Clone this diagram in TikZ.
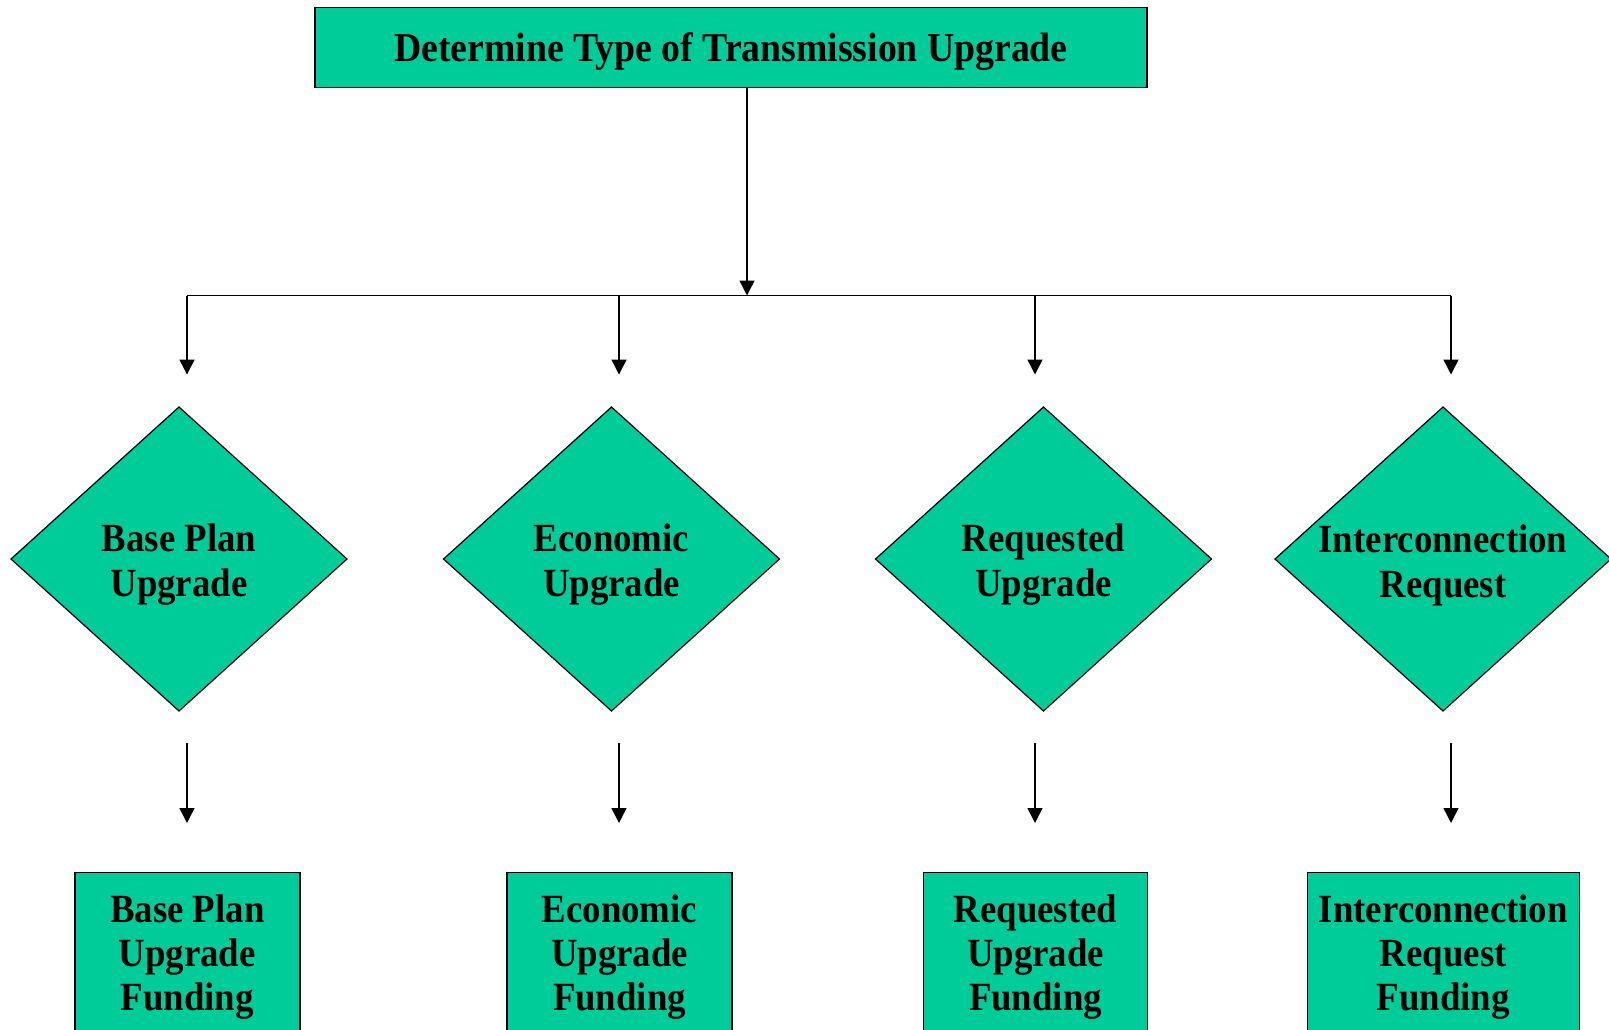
\documentclass[tikz,border=0pt]{standalone}
\usepackage{fontspec}
\setmainfont{Liberation Serif}[FakeStretch=0.92]
\usetikzlibrary{shapes.geometric,arrows.meta}
\definecolor{fillgreen}{RGB}{0,204,153}
\begin{document}
\begin{tikzpicture}[x=1pt,y=-1pt,
  box/.style={draw=black, line width=1.4pt, fill=fillgreen, inner sep=0pt, outer sep=0pt},
  dia/.style={diamond, draw=black, line width=1.2pt, fill=fillgreen, inner sep=0pt, outer sep=0pt,
              minimum width=336pt, minimum height=304pt},
  lbl/.style={align=center, inner sep=0pt, font=\bfseries\fontsize{40}{45}\selectfont},
  blbl/.style={align=center, inner sep=0pt, font=\bfseries\fontsize{40}{44}\selectfont},
  conn/.style={line width=1.4pt},
  arr/.style={line width=1.4pt, -{Triangle[length=15pt,width=15pt]}},
]
\useasboundingbox (0,0) rectangle (1609,1029);
\clip (0,0) rectangle (1609,1029);

% title
\node[box, minimum width=832pt, minimum height=80pt,
      font=\bfseries\fontsize{41}{45}\selectfont, text height=29pt, text depth=0pt]
  (title) at (731,47.2) {Determine Type of Transmission Upgrade};

% distribution
\coordinate (hub) at (747,295.5);
\coordinate (j1) at (187,295.5);
\coordinate (j2) at (619,295.5);
\coordinate (j3) at (1035,295.5);
\coordinate (j4) at (1451,295.5);
\coordinate (a1) at (187,374.5);
\coordinate (a2) at (619,374.5);
\coordinate (a3) at (1035,374.5);
\coordinate (a4) at (1451,374.5);

\draw[conn] (j1) -- (j4);
\draw[arr] (title.south -| hub) -- (hub);
\draw[arr] (j1) -- (a1);
\draw[arr] (j2) -- (a2);
\draw[arr] (j3) -- (a3);
\draw[arr] (j4) -- (a4);

% diamonds
\node[dia] (d1) at (179,559) {};
\node[dia] (d2) at (611.5,559) {};
\node[dia] (d3) at (1043.5,559) {};
\node[dia] (d4) at (1443,559) {};
\node[lbl] (d1t) at (179,565) {Base Plan\\Upgrade};
\node[lbl] (d2t) at (611.5,565) {Economic\\Upgrade};
\node[lbl] (d3t) at (1043.5,565) {Requested\\Upgrade};
\node[lbl] (d4t) at (1443,565) {Interconnection\\Request};

% second arrows
\coordinate (b1s) at (187,743);  \coordinate (b1e) at (187,823);
\coordinate (b2s) at (619,743);  \coordinate (b2e) at (619,823);
\coordinate (b3s) at (1035,743); \coordinate (b3e) at (1035,823);
\coordinate (b4s) at (1451,743); \coordinate (b4e) at (1451,823);
\draw[arr] (b1s) -- (b1e);
\draw[arr] (b2s) -- (b2e);
\draw[arr] (b3s) -- (b3e);
\draw[arr] (b4s) -- (b4e);

% funding boxes
\node[box, minimum width=225pt, minimum height=200pt, anchor=north] (f1) at (187.3,872.3) {};
\node[box, minimum width=225pt, minimum height=200pt, anchor=north] (f2) at (619.5,872.3) {};
\node[box, minimum width=223.5pt, minimum height=200pt, anchor=north] (f3) at (1035.5,872.3) {};
\node[box, minimum width=272pt, minimum height=200pt, anchor=north] (f4) at (1443.3,872.3) {};
\node[blbl] (f1t) at (187.3,957) {Base Plan\\Upgrade\\Funding};
\node[blbl] (f2t) at (619.5,957) {Economic\\Upgrade\\Funding};
\node[blbl] (f3t) at (1035.5,957) {Requested\\Upgrade\\Funding};
\node[blbl] (f4t) at (1443.3,957) {Interconnection\\Request\\Funding};
\end{tikzpicture}
\end{document}
